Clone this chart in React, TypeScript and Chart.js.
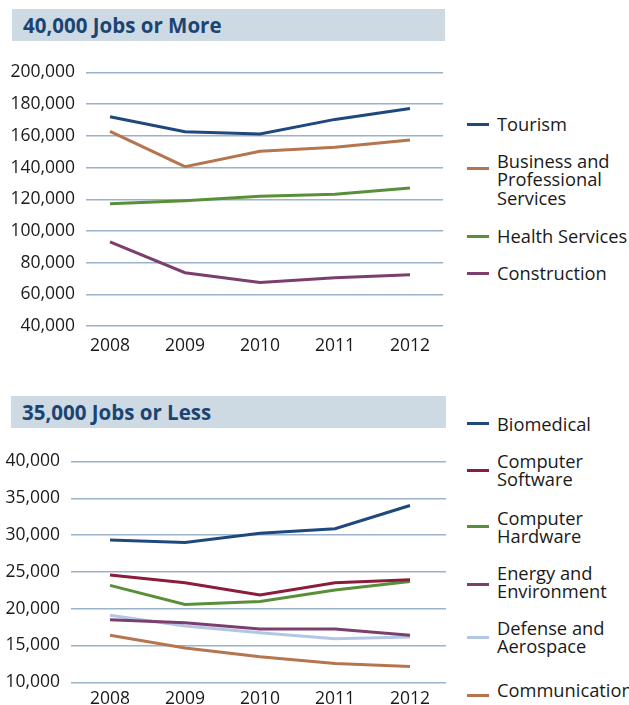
import React, { useEffect, useRef } from "react";
import { Chart, registerables } from "chart.js";

Chart.register(...registerables);

// ---- data ----
const years = [2008, 2009, 2010, 2011, 2012];
const yearLabels = ["2008", "2009", "2010", "2011", "2012"];

const topTitle = "40,000 Jobs or More";
const bottomTitle = "35,000 Jobs or Less";

const topTicks = [40000, 60000, 80000, 100000, 120000, 140000, 160000, 180000, 200000];
const bottomTicks = [10000, 15000, 20000, 25000, 30000, 35000, 40000];

const tourism = [172100, 162650, 161200, 170400, 177300];
const businessProfessional = [162850, 140600, 150250, 152750, 157400];
const healthServices = [117100, 119000, 121900, 123150, 127150];
const construction = [93150, 73650, 67500, 70500, 72400];

const biomedical = [29340, 28980, 30240, 30860, 34020];
const computerSoftware = [24570, 23540, 21870, 23540, 23940];
const computerHardware = [23170, 20570, 20970, 22550, 23710];
const energyEnvironment = [18500, 18100, 17240, 17240, 16390];
const defenseAerospace = [19120, 17640, 16740, 15930, 16150];
const communications = [16390, 14670, 13460, 12560, 12160];

const topSeriesNames = [["Tourism"], ["Business and", "Professional", "Services"], ["Health Services"], ["Construction"]];
const bottomSeriesNames = [["Biomedical"], ["Computer", "Software"], ["Computer", "Hardware"], ["Energy and", "Environment"], ["Defense and", "Aerospace"], ["Communications"]];

// ---- styles ----
const NAVY = "#1f497d";
const BROWN = "#b5764f";
const GREEN = "#5a8f3a";
const PLUM = "#7b3f6e";
const CRIMSON = "#8b1c3b";
const LIGHTBLUE = "#b4c6e7";
const GRID = "#9ab3cb";
const TEXT = "#1a1a1a";
const FONT = "'Open Sans', 'DejaVu Sans', sans-serif";
const FONT_SIZE = 17.5;
const LEGEND_FONT_SIZE = 18.3;

const topColors = [NAVY, BROWN, GREEN, PLUM];
const bottomColors = [NAVY, CRIMSON, GREEN, PLUM, LIGHTBLUE, BROWN];
const topSeries = [tourism, businessProfessional, healthServices, construction];
const bottomSeries = [biomedical, computerSoftware, computerHardware, energyEnvironment, defenseAerospace, communications];

type ChartProps = {
  series: number[][];
  colors: string[];
  names: string[][];
  yTicks: number[];
  xMin: number;
  xMax: number;
  yAxisWidth: number;
  xAxisHeight: number;
  xPad: number;
  padTop: number;
  padRight: number;
  width: number;
  height: number;
};

function LineChart(p: ChartProps) {
  const ref = useRef<HTMLCanvasElement | null>(null);
  useEffect(() => {
    if (!ref.current) return;
    const chart = new Chart(ref.current, {
      type: "line",
      data: {
        datasets: p.series.map((vals, i) => ({
          label: p.names[i].join(" "),
          data: years.map((yr, j) => ({ x: yr, y: vals[j] })),
          borderColor: p.colors[i],
          backgroundColor: p.colors[i],
          borderWidth: 3,
          pointRadius: 0,
          tension: 0,
          fill: false,
        })),
      },
      options: {
        animation: false,
        responsive: false,
        maintainAspectRatio: false,
        layout: { padding: { top: p.padTop, right: p.padRight, left: 0, bottom: 0 } },
        plugins: { legend: { display: false }, tooltip: { enabled: false } },
        scales: {
          x: {
            type: "linear",
            min: p.xMin,
            max: p.xMax,
            grid: { display: false, drawTicks: false },
            border: { display: false },
            afterBuildTicks: (axis: any) => {
              axis.ticks = years.map((v) => ({ value: v }));
            },
            afterFit: (axis: any) => {
              axis.height = p.xAxisHeight;
            },
            ticks: {
              padding: p.xPad,
              autoSkip: false,
              maxRotation: 0,
              color: TEXT,
              font: { family: FONT, size: FONT_SIZE },
              callback: (v: any) => {
                const idx = years.indexOf(Number(v));
                return idx >= 0 ? yearLabels[idx] : "";
              },
            },
          },
          y: {
            min: p.yTicks[0],
            max: p.yTicks[p.yTicks.length - 1],
            afterBuildTicks: (axis: any) => {
              axis.ticks = p.yTicks.map((v) => ({ value: v }));
            },
            afterFit: (axis: any) => {
              axis.width = p.yAxisWidth;
            },
            grid: { color: GRID, lineWidth: 1.5, drawTicks: false },
            border: { display: false },
            ticks: {
              padding: 11,
              color: TEXT,
              font: { family: FONT, size: FONT_SIZE },
              callback: (v: any) => Number(v).toLocaleString("en-US"),
            },
          },
        },
      },
    } as any);
    return () => chart.destroy();
  }, []);
  return <canvas ref={ref} width={p.width} height={p.height} style={{ width: p.width, height: p.height, display: "block" }} />;
}

type LegendItem = { lines: string[]; color: string; textTop: number; sampleY: number };

function Legend({ items }: { items: LegendItem[] }) {
  const LH = 18.7;
  return (
    <>
      {items.map((it, i) => (
        <React.Fragment key={i}>
          <div style={{ position: "absolute", left: 467, top: it.sampleY - 1.5, width: 22, height: 3, background: it.color }} />
          <div
            style={{
              position: "absolute",
              left: 497,
              top: it.textTop,
              fontFamily: FONT,
              fontSize: LEGEND_FONT_SIZE,
              lineHeight: LH + "px",
              color: TEXT,
              whiteSpace: "nowrap",
            }}
          >
            {it.lines.map((l, k) => (
              <div key={k}>{l}</div>
            ))}
          </div>
        </React.Fragment>
      ))}
    </>
  );
}

function TitleBand({ text, top, left, width }: { text: string; top: number; left: number; width: number }) {
  return (
    <div
      style={{
        position: "absolute",
        left,
        top,
        width,
        height: 32,
        background: "#cddae4",
        display: "flex",
        alignItems: "center",
        paddingLeft: 11,
        boxSizing: "border-box",
        fontFamily: FONT,
        fontWeight: 700,
        fontSize: 20.5,
        color: "#1b4472",
        whiteSpace: "nowrap",
      }}
    >
      {text}
    </div>
  );
}

const topLegendTextCenters = [124, 161, 236, 273];
const topLegendSamples = [124, 168, 236, 273];
const bottomLegendTextCenters = [424, 461, 518, 573, 628, 690];
const bottomLegendSamples = [423, 470, 526, 584, 637, 695];

export default function App() {
  const LH = 18.7;
  const topItems: LegendItem[] = topSeriesNames.map((n, i) => ({
    lines: n,
    color: topColors[i],
    textTop: topLegendTextCenters[i] - LH / 2,
    sampleY: topLegendSamples[i],
  }));
  const bottomItems: LegendItem[] = bottomSeriesNames.map((n, i) => ({
    lines: n,
    color: bottomColors[i],
    textTop: bottomLegendTextCenters[i] - LH / 2,
    sampleY: bottomLegendSamples[i],
  }));
  return (
    <div style={{ position: "absolute", left: 0, top: 0, width: 629, height: 705, overflow: "hidden", background: "#fff" }}>
      <TitleBand text={topTitle} top={9} left={12} width={433} />
      <div style={{ position: "absolute", left: 0, top: 51 }}>
        <LineChart
          series={topSeries}
          colors={topColors}
          names={topSeriesNames}
          yTicks={topTicks}
          xMin={2007.68}
          xMax={2012.44}
          yAxisWidth={86}
          xAxisHeight={30}
          xPad={10}
          padTop={12}
          padRight={7}
          width={450}
          height={305}
        />
      </div>
      <Legend items={topItems} />
      <TitleBand text={bottomTitle} top={396} left={11} width={435} />
      <div style={{ position: "absolute", left: 0, top: 440 }}>
        <LineChart
          series={bottomSeries}
          colors={bottomColors}
          names={bottomSeriesNames}
          yTicks={bottomTicks}
          xMin={2007.48}
          xMax={2012.48}
          yAxisWidth={71}
          xAxisHeight={22.7}
          xPad={6}
          padTop={20}
          padRight={4}
          width={450}
          height={265}
        />
      </div>
      <Legend items={bottomItems} />
    </div>
  );
}
